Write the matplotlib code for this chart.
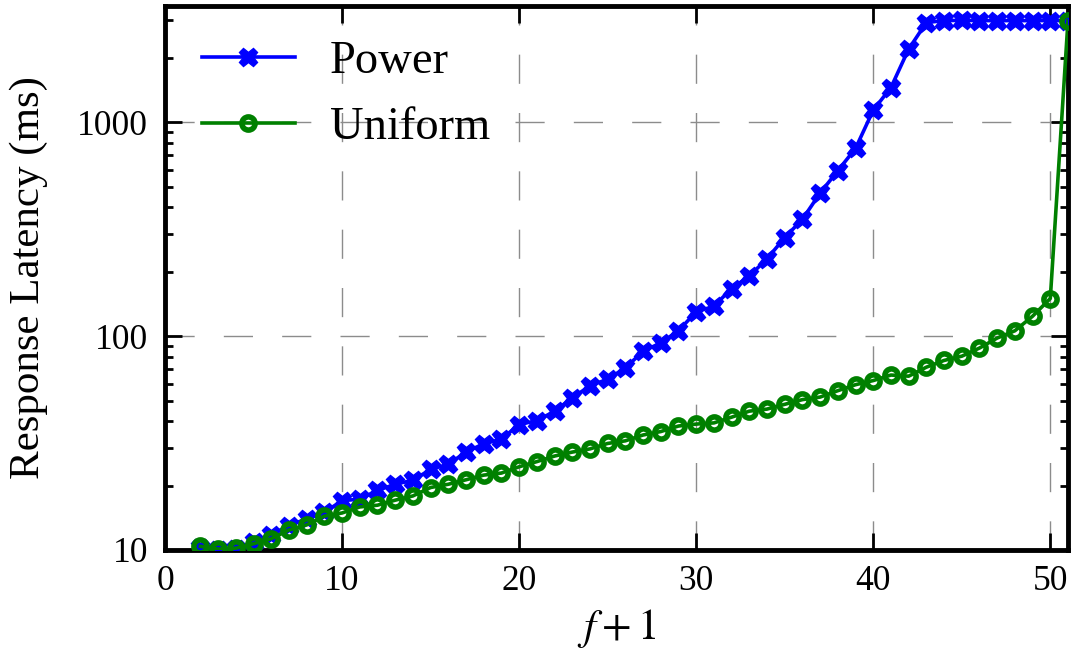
import matplotlib
matplotlib.use("Agg")
import matplotlib.pyplot as plt
from matplotlib.ticker import LogLocator, FixedLocator, NullFormatter, FixedFormatter

x_power = list(range(2, 52))
power = [10.2, 10.0, 10.1, 10.9, 11.8, 13.0, 14.0, 15.0, 17.0, 17.3, 19.0, 20.3, 21.2, 23.8, 25.2,
         28.7, 31.4, 33.0, 38.6, 40.3, 44.5, 51.5, 58.5, 63.0, 71.0, 85.0, 93.0, 106.0, 130.0, 138.0,
         167.0, 191.0, 230.0, 289.0, 352.0, 467.0, 594.0, 755.0, 1140.0, 1455.0, 2200.0, 2930.0,
         2990.0, 3000.0, 2990.0, 2990.0, 2990.0, 2990.0, 2990.0, 2990.0]
x_uniform = list(range(2, 52))
uniform = [10.4, 10.1, 10.2, 10.7, 11.3, 12.4, 13.1, 14.4, 14.9, 15.9, 16.2, 17.1, 17.9, 19.6, 20.3,
           21.3, 22.4, 22.9, 24.5, 25.9, 27.5, 28.7, 29.7, 31.5, 32.4, 34.5, 35.8, 38.0, 38.8, 39.3,
           41.8, 44.6, 45.6, 48.0, 50.5, 51.9, 55.6, 59.3, 62.0, 65.8, 65.0, 71.6, 77.0, 80.6, 88.0,
           98.0, 106.0, 124.0, 150.0, 2990.0]
labels = ["Power", "Uniform"]
x_ticks = [0, 10, 20, 30, 40, 50]
y_ticks = [10, 100, 1000]
y_ticklabels = ["10", "100", "1000"]

plt.rcParams['font.family'] = ['Liberation Serif', 'DejaVu Serif']
plt.rcParams['mathtext.fontset'] = 'stix'

fig = plt.figure(figsize=(10.74, 6.59), dpi=100)
ax = fig.add_axes([165/1074, 1-550/659, (1068-165)/1074, (550-6)/659])

ax.plot(x_power, power, color='#0000ff', lw=2.6, marker='X', ms=13, mew=1.0,
        label=labels[0], zorder=3)
ax.plot(x_uniform, uniform, color='#008000', lw=2.6, marker='o', ms=9.5, mew=4,
        mfc='none', label=labels[1], zorder=3)

ax.set_yscale('log')
ax.set_xlim(0, 51)
ax.set_ylim(10, 3500)
ax.xaxis.set_major_locator(FixedLocator(x_ticks))
ax.yaxis.set_major_locator(FixedLocator(y_ticks))
ax.yaxis.set_major_formatter(FixedFormatter(y_ticklabels))
ax.yaxis.set_minor_locator(LogLocator(base=10, subs=range(2, 10)))
ax.yaxis.set_minor_formatter(NullFormatter())

ax.tick_params(which='both', direction='in', top=True, right=True, labelsize=25.5)
ax.tick_params(which='major', length=12, width=2)
ax.tick_params(which='minor', length=6, width=2)
ax.tick_params(axis='y', which='major', pad=12)
ax.tick_params(axis='x', which='major', pad=11)

for sp in ax.spines.values():
    sp.set_linewidth(3.5)

ax.grid(True, which='major', color='0.55', lw=1.0, dashes=(21, 21))

ax.set_xlabel(r'$f+1$', fontsize=31, labelpad=6)
ax.set_ylabel('Response Latency (ms)', fontsize=31, labelpad=21)

leg = ax.legend(loc='upper left', frameon=False, fontsize=33.5, handlelength=2.0,
                handletextpad=0.75, labelspacing=0.5, borderaxespad=0.35,
                bbox_to_anchor=(0.002, 1.0))

fig.savefig('out.png', dpi=100)
